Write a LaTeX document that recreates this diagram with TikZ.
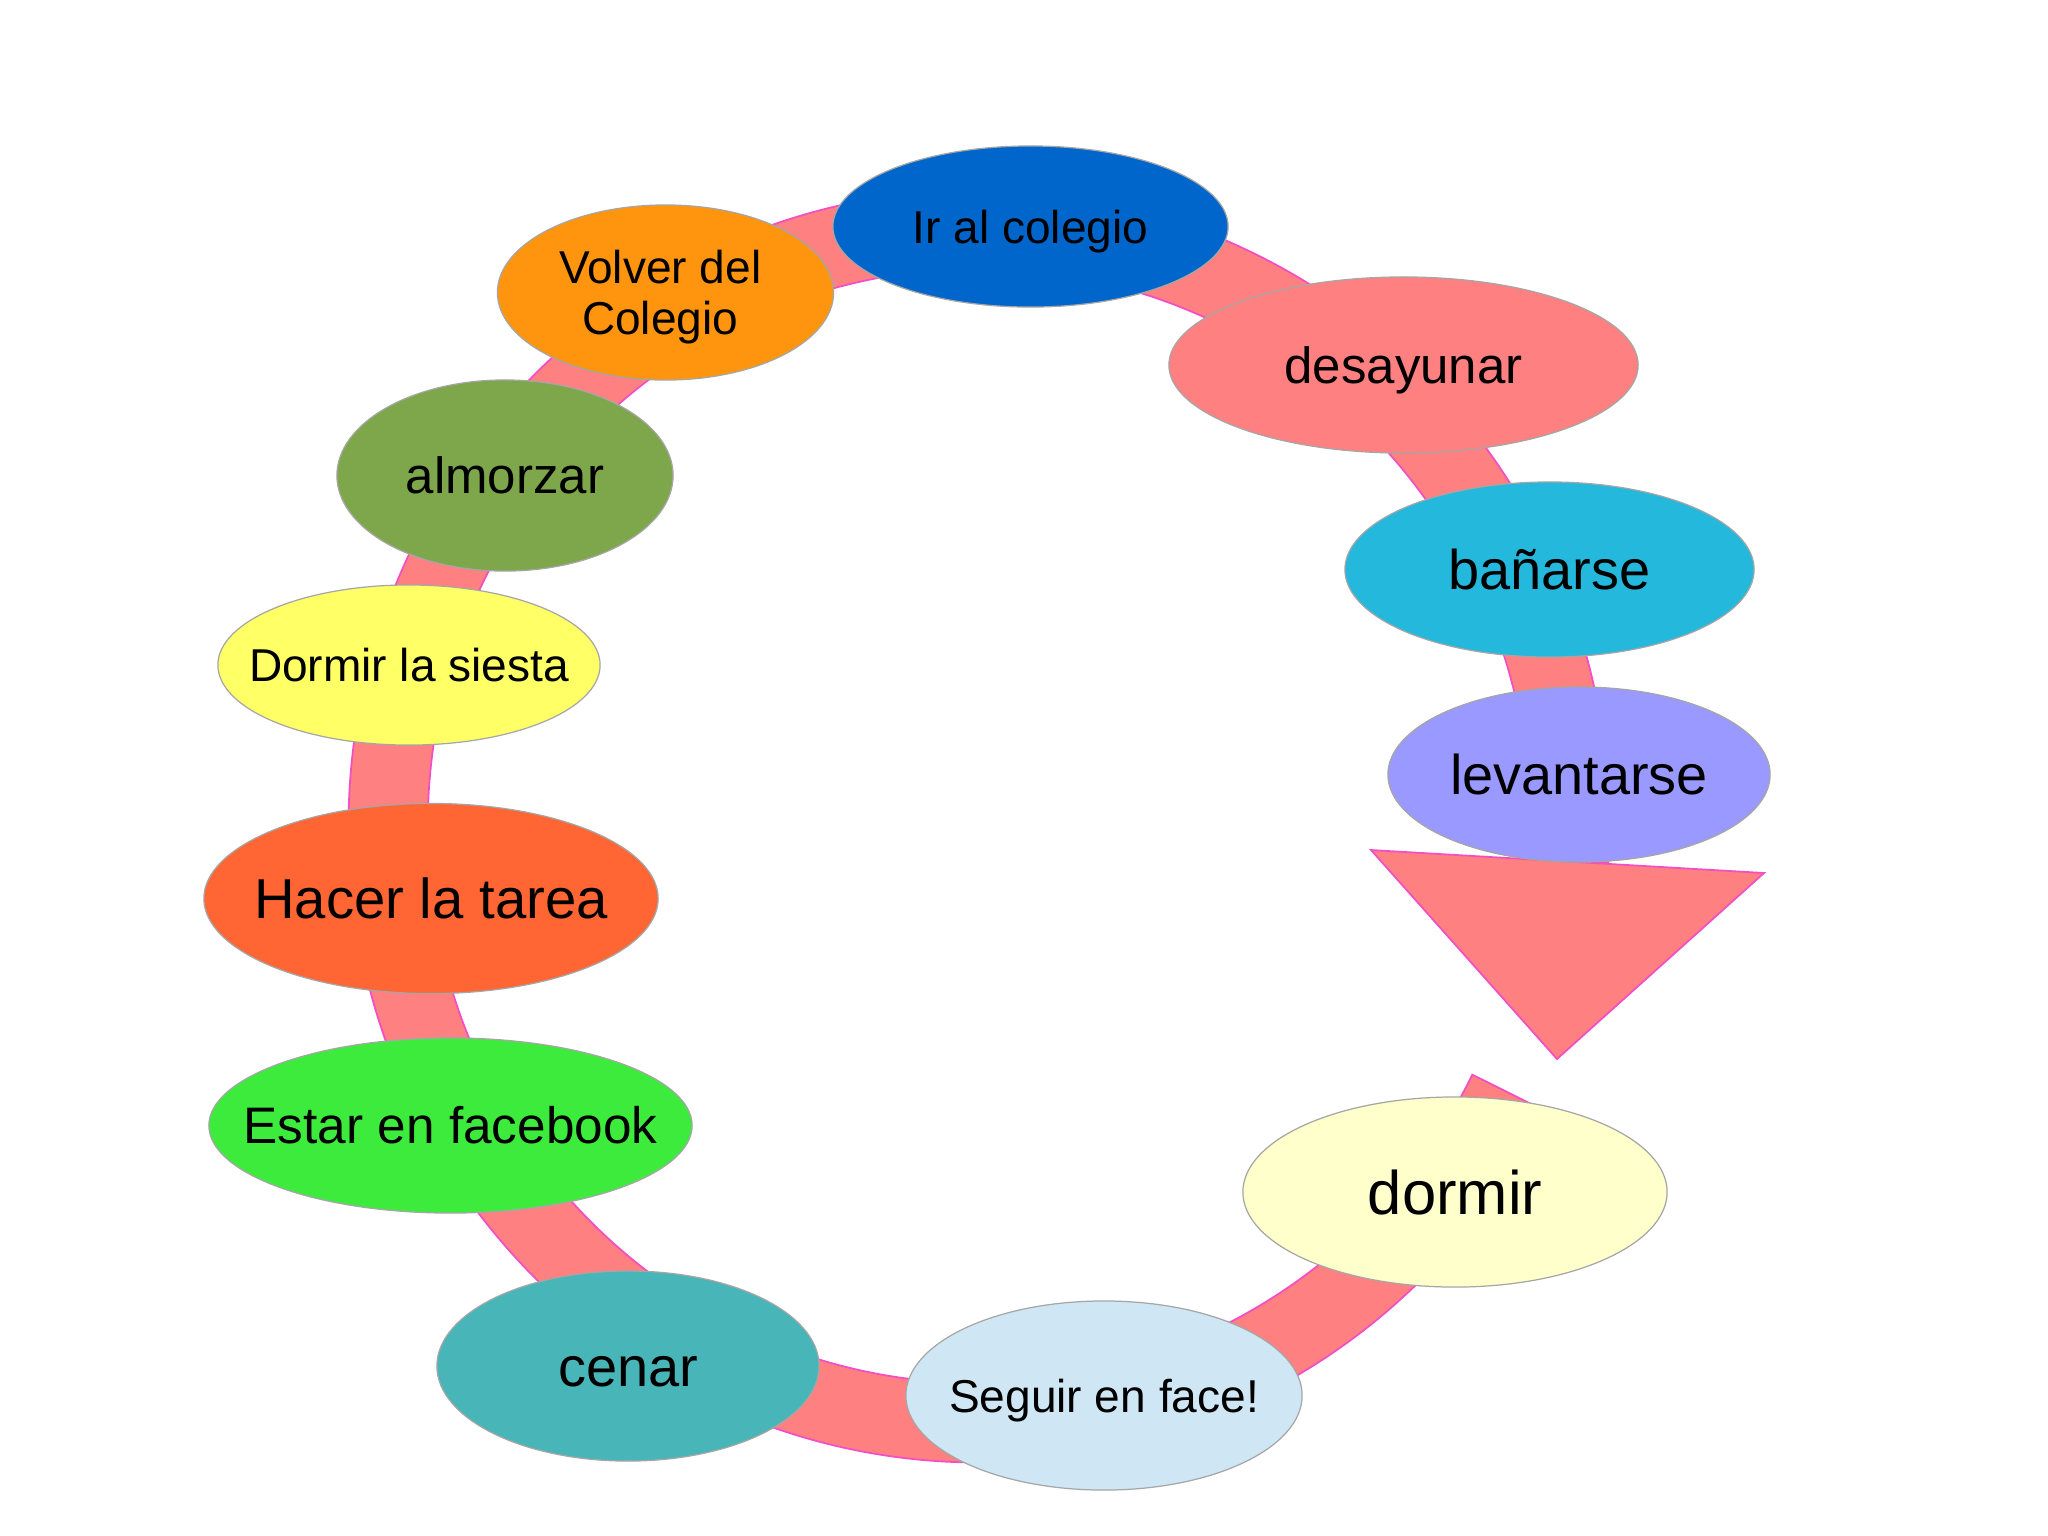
\documentclass[tikz,border=0pt]{standalone}
\usepackage{fontspec}
\setmainfont{Liberation Sans}
\usetikzlibrary{shapes.geometric,calc}
\definecolor{ringpink}{HTML}{FF8080}
\definecolor{ringedge}{HTML}{F24FC4}
\definecolor{cIr}{HTML}{0066CC}
\definecolor{cVolver}{HTML}{FF950E}
\definecolor{cDesay}{HTML}{FF8080}
\definecolor{cAlm}{HTML}{7EA64A}
\definecolor{cBan}{HTML}{23B8DC}
\definecolor{cSiesta}{HTML}{FFFF66}
\definecolor{cLev}{HTML}{9999FF}
\definecolor{cHacer}{HTML}{FF6633}
\definecolor{cEstar}{HTML}{3DEB3D}
\definecolor{cDormir}{HTML}{FFFFCC}
\definecolor{cCenar}{HTML}{48B5B8}
\definecolor{cSeguir}{HTML}{CFE7F5}
\newcommand\fsz[1]{\fontsize{#1pt}{#1pt}\selectfont}
\newcommand\lbl[1]{\makebox[0pt]{\raisebox{-0.358em}[0pt][0pt]{#1}}}
\begin{document}
\begin{tikzpicture}[x=0.01cm,y=0.01cm,
  bubble/.style={ellipse, inner sep=0pt, outer sep=0pt, draw=black!35, line width=0.35pt},
  ringpart/.style={fill=ringpink, draw=ringedge, line width=0.5pt, line join=miter}]
\useasboundingbox (0,0) rectangle (2048,-1535);
\fill[white] (0,0) rectangle (2048,-1535);
\coordinate (C) at (979,-826);
% ring (block arc)
\path[ringpart] ($(C)+(-26.5:6.30cm and 6.36cm)$)
  arc[start angle=-26.5, end angle=-363.3, x radius=6.30cm, y radius=6.36cm]
  -- ($(C)+(-363.3:5.51cm and 5.57cm)$)
  arc[start angle=-363.3, end angle=-26.5, x radius=5.51cm, y radius=5.57cm]
  -- cycle;
% arrow head
\path[ringpart] (1371,-850) -- (1764,-873) -- (1557,-1059) -- cycle;
% ellipses
\node[bubble, fill=cIr, minimum width=3.95cm, minimum height=1.61cm, font=\fsz{13.1}]
  (ir) at (1030.5,-226.5) {\lbl{Ir al colegio}};
\node[bubble, fill=cVolver, minimum width=3.36cm, minimum height=1.75cm, font=\fsz{13.1}]
  (volver) at (665.5,-292.5)
  {\makebox[0pt]{\hspace*{-3pt}\raisebox{-11.95pt}[0pt][0pt]{\vbox{\baselineskip=14.5pt\halign{\hfil#\hfil\cr Volver del\cr Colegio\cr}}}}};
\node[bubble, fill=cDesay, minimum width=4.69cm, minimum height=1.76cm, font=\fsz{14.5}]
  (desay) at (1403.5,-365) {\lbl{desayunar}};
\node[bubble, fill=cAlm, minimum width=3.36cm, minimum height=1.91cm, font=\fsz{14.5}]
  (alm) at (505,-475.5) {\lbl{almorzar}};
\node[bubble, fill=cBan, minimum width=4.09cm, minimum height=1.75cm, font=\fsz{15.9}]
  (ban) at (1549.5,-569.5) {\lbl{bañarse}};
\node[bubble, fill=cSiesta, minimum width=3.82cm, minimum height=1.60cm, font=\fsz{13.1}]
  (siesta) at (409,-665) {\lbl{Dormir la siesta}};
\node[bubble, fill=cLev, minimum width=3.82cm, minimum height=1.75cm, font=\fsz{15.9}]
  (lev) at (1579,-774.5) {\lbl{levantarse}};
\node[bubble, fill=cHacer, minimum width=4.54cm, minimum height=1.90cm, font=\fsz{16.0}]
  (hacer) at (431,-898.5) {\lbl{Hacer la tarea}};
\node[bubble, fill=cEstar, minimum width=4.83cm, minimum height=1.75cm, font=\fsz{14.6}]
  (estar) at (450.5,-1125.5) {\lbl{Estar en facebook}};
\node[bubble, fill=cDormir, minimum width=4.24cm, minimum height=1.90cm, font=\fsz{17.5}]
  (dormir) at (1455,-1192) {\lbl{dormir}};
\node[bubble, fill=cCenar, minimum width=3.82cm, minimum height=1.90cm, font=\fsz{15.9}]
  (cenar) at (628,-1366) {\lbl{cenar}};
\node[bubble, fill=cSeguir, minimum width=3.96cm, minimum height=1.89cm, font=\fsz{13.1}]
  (seguir) at (1104,-1395.5) {\lbl{Seguir en face!}};
\end{tikzpicture}
\end{document}
